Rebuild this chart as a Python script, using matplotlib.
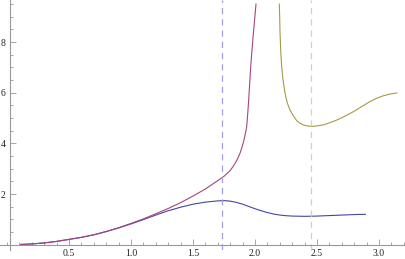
import matplotlib
matplotlib.use('Agg')
import matplotlib.pyplot as plt
from matplotlib.ticker import MultipleLocator, FixedLocator

# values
red_x = [0.11, 0.2, 0.3, 0.4, 0.5, 0.6, 0.7, 0.8, 0.9, 1.0, 1.1, 1.2, 1.3, 1.4,
         1.5, 1.6, 1.7, 1.75, 1.8, 1.825, 1.85, 1.865, 1.879, 1.895, 1.911, 1.922,
         1.933, 1.941, 1.949, 1.957, 1.965, 1.976, 1.987, 1.997, 2.008]
red_y = [0.01, 0.03, 0.07, 0.13, 0.21, 0.29, 0.39, 0.52, 0.67, 0.84, 1.02, 1.22, 1.43, 1.66,
         1.92, 2.2, 2.53, 2.7, 2.93, 3.1, 3.3, 3.45, 3.61, 3.85, 4.13, 4.38,
         4.66, 5.15, 5.71, 6.35, 7.0, 7.7, 8.35, 8.9, 9.5]

blue_x = [0.11, 0.2, 0.3, 0.4, 0.5, 0.6, 0.7, 0.8, 0.9, 1.0, 1.1, 1.2, 1.3, 1.4, 1.5,
          1.6, 1.7, 1.75, 1.8, 1.85, 1.9, 1.95, 2.0, 2.05, 2.1, 2.15, 2.2, 2.25, 2.3,
          2.4, 2.5, 2.6, 2.7, 2.8, 2.89]
blue_y = [0.01, 0.03, 0.07, 0.13, 0.21, 0.29, 0.39, 0.52, 0.66, 0.82, 0.99, 1.17, 1.34, 1.48, 1.6,
          1.68, 1.73, 1.74, 1.72, 1.67, 1.6, 1.51, 1.42, 1.34, 1.27, 1.21, 1.17, 1.145, 1.13,
          1.12, 1.13, 1.15, 1.17, 1.19, 1.2]

yel_x = [2.196, 2.199, 2.202, 2.208, 2.215, 2.225, 2.242, 2.26, 2.282, 2.31, 2.336,
         2.36, 2.39, 2.42, 2.457, 2.5, 2.551, 2.6, 2.659, 2.72, 2.793, 2.86, 2.927,
         2.98, 3.035, 3.09, 3.143]
yel_y = [9.5, 9.0, 8.35, 7.6, 7.03, 6.55, 5.98, 5.6, 5.32, 5.08, 4.9,
         4.8, 4.73, 4.69, 4.67, 4.69, 4.73, 4.81, 4.92, 5.06, 5.25, 5.45, 5.65,
         5.78, 5.88, 5.95, 5.99]

vlines_x = [1.732, 2.449]

xticks_major = [0.5, 1.0, 1.5, 2.0, 2.5, 3.0]
yticks_major = [2, 4, 6, 8]

c_blue = '#4545a5'
c_red = '#a5457e'
c_yel = '#a59a48'

plt.rcParams['font.family'] = ['Liberation Serif', 'DejaVu Serif']

fig = plt.figure(figsize=(4.05, 2.59), dpi=100)
ax = fig.add_axes([0, 9 / 259, 1, 250 / 259])

ax.plot(blue_x, blue_y, color=c_blue, lw=0.8)
ax.plot(red_x, red_y, color=c_red, lw=0.8)
ax.plot(yel_x, yel_y, color=c_yel, lw=0.8)

ax.axvline(vlines_x[0], color='#a0a0e0', lw=0.9, ls=(0, (5, 4)))
ax.axvline(vlines_x[1], color='#d8d0a8', lw=0.9, ls=(0, (5, 4)))

ax.set_xlim(-7 / 124, 398 / 124)
ax.set_ylim(-5.3 / 25.33, 244.7 / 25.33)

for s in ['top', 'right']:
    ax.spines[s].set_visible(False)
ax.spines['left'].set_position(('data', 0.024))
ax.spines['bottom'].set_position(('data', 0))
ax.spines['left'].set_color('#999999')
ax.spines['bottom'].set_color('#999999')
ax.spines['left'].set_linewidth(0.8)
ax.spines['bottom'].set_linewidth(0.8)

ax.xaxis.set_major_locator(FixedLocator(xticks_major))
ax.xaxis.set_minor_locator(MultipleLocator(0.1))
ax.yaxis.set_major_locator(FixedLocator(yticks_major))
ax.yaxis.set_minor_locator(MultipleLocator(0.5))
ax.set_xticklabels(['%.1f' % v for v in xticks_major])
ax.set_yticklabels(['%d' % v for v in yticks_major])

ax.tick_params(which='both', direction='in', color='#999999', width=0.6,
               labelsize=7, labelcolor='#222222')
ax.tick_params(which='major', length=4, pad=3)
ax.tick_params(which='minor', length=2)

ax.patch.set_alpha(0)
fig.savefig('out.png', dpi=100)
